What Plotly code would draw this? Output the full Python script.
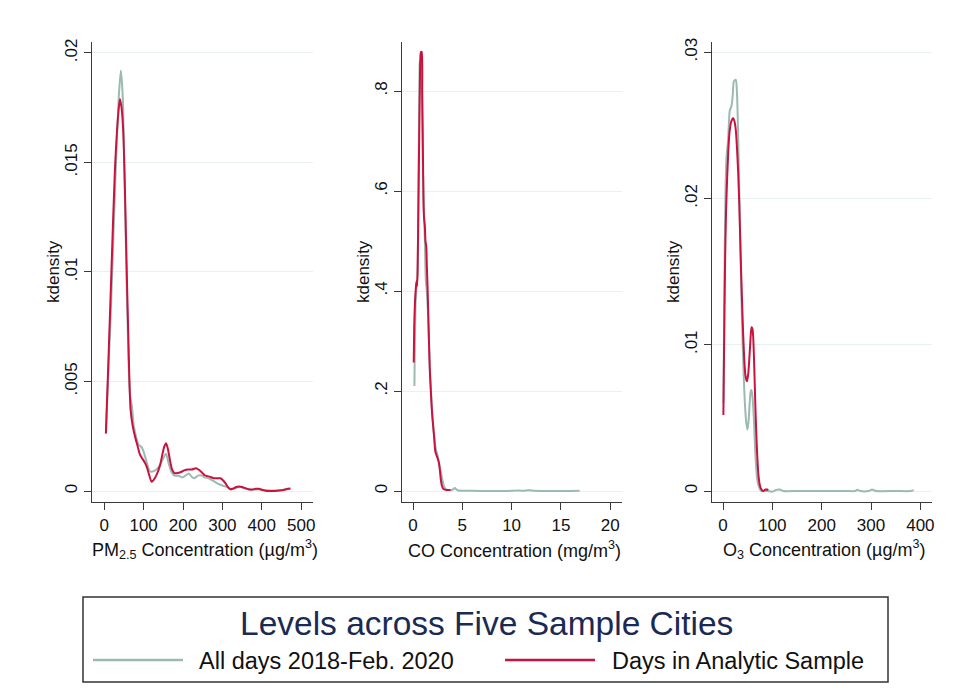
import plotly.graph_objects as go

# ---------------- data ----------------
pm_all_x = [4.5, 10, 18, 25, 32, 38, 42.5, 47, 52, 57, 62, 66, 70, 75, 82, 88, 95, 100, 108, 116, 125,
            134, 142, 150, 157, 163, 170, 178, 188, 198, 206, 215, 222, 228, 238, 246, 255, 265, 275,
            287, 300, 313, 322, 335, 345, 360, 375, 395, 410, 430, 450, 465, 472]
pm_all_y = [0.0027, 0.0052, 0.0088, 0.0125, 0.0160, 0.0183, 0.0192, 0.0180, 0.0140, 0.0095, 0.0058,
            0.0043, 0.0039, 0.0030, 0.0024, 0.0021, 0.0020, 0.0018, 0.0013, 0.0009, 0.0009, 0.0010,
            0.0012, 0.0015, 0.0017, 0.0013, 0.0009, 0.0007, 0.0007, 0.00062, 0.0007, 0.0008, 0.00065,
            0.00058, 0.0007, 0.00072, 0.00062, 0.00058, 0.00048, 0.00035, 0.00025, 0.00018, 0.00008,
            0.00015, 0.00018, 0.0001, 0.00005, 0.00008, 0.00003, 0.00002, 0.00004, 0.00008, 0.0001]

pm_ana_x = [4.2, 10, 18.6, 27, 35.6, 39.8, 44, 48.3, 52, 55, 58, 61, 64, 67, 72, 78, 84, 90, 96, 103,
            108, 113, 120.3, 126, 132, 141.5, 148, 152, 157, 162, 167, 172, 178, 186, 195, 203, 213,
            222, 233, 240, 248, 255, 262, 270, 278, 287, 295, 302, 308, 314, 320, 326, 334, 342, 350,
            358, 366, 375, 385, 392, 400, 410, 420, 432, 445, 458, 466, 473]
pm_ana_y = [0.00262, 0.0056, 0.0102, 0.0146, 0.0172, 0.0179, 0.0175, 0.0164, 0.0142, 0.0118, 0.0094,
            0.0072, 0.0050, 0.0037, 0.0030, 0.0025, 0.0021, 0.0017, 0.0015, 0.0013, 0.0011, 0.0008,
            0.00042, 0.00052, 0.0007, 0.00116, 0.0017, 0.0020, 0.00218, 0.0019, 0.0014, 0.0010,
            0.00082, 0.00082, 0.00087, 0.00094, 0.00098, 0.00098, 0.00104, 0.00097, 0.00085, 0.00072,
            0.00068, 0.00064, 0.00058, 0.00058, 0.00058, 0.00048, 0.00035, 0.00018, 0.00008, 0.0001,
            0.00017, 0.0002, 0.00018, 0.00013, 0.00008, 0.00007, 0.0001, 0.0001, 0.00006, 0.00001,
            0.0, 0.0, 0.00002, 0.00006, 0.0001, 0.00011]

co_all_x = [0.14, 0.18, 0.25, 0.35, 0.45, 0.55, 0.65, 0.7, 0.8, 0.9, 1.0, 1.1, 1.2, 1.3, 1.4, 1.5, 1.7,
            1.9, 2.1, 2.3, 2.5, 2.7, 2.9, 3.1, 3.3, 3.6, 3.9, 4.1, 4.25, 4.4, 4.6, 5, 6, 8, 10, 10.7,
            11.1, 11.8, 12.3, 14, 16, 16.9]
co_all_y = [0.21, 0.29, 0.37, 0.41, 0.43, 0.6, 0.82, 0.86, 0.86, 0.8, 0.65, 0.56, 0.5, 0.42, 0.4, 0.36,
            0.25, 0.17, 0.12, 0.085, 0.07, 0.05, 0.03, 0.012, 0.004, 0.002, 0.002, 0.004, 0.006, 0.003,
            0.001, 0.0005, 0.0003, 0.0002, 0.0003, 0.0012, 0.0003, 0.0015, 0.0003, 0.0002, 0.0002,
            0.0004]

co_ana_x = [0.07, 0.12, 0.2, 0.3, 0.36, 0.42, 0.47, 0.55, 0.65, 0.75, 0.80, 0.88, 0.93, 1.0, 1.06,
            1.12, 1.2, 1.26, 1.34, 1.4, 1.47, 1.58, 1.69, 1.78, 1.86, 1.95, 2.03, 2.15, 2.25, 2.37,
            2.5, 2.61, 2.71, 2.81, 2.95, 3.12, 3.4, 3.8]
co_ana_y = [0.257, 0.33, 0.38, 0.41, 0.42, 0.41, 0.45, 0.58, 0.75, 0.87, 0.878, 0.878, 0.80, 0.68, 0.58,
            0.545, 0.53, 0.5, 0.49, 0.45, 0.41, 0.33, 0.247, 0.21, 0.179, 0.15, 0.132, 0.105, 0.08,
            0.072, 0.065, 0.0575, 0.044, 0.024, 0.009, 0.0034, 0.002, 0.002]

o3_all_x = [0.7, 2, 3.4, 5, 7, 10.2, 13.6, 17, 19.5, 21.7, 24, 26, 28.5, 30.5, 32.5, 35, 37.3, 40, 42,
            44.1, 47, 49.5, 52, 54.2, 56, 57.6, 59.5, 62.4, 64.5, 66.4, 69, 71.2, 75, 78, 90, 100, 108,
            115, 122, 150, 200, 250, 268, 272, 278, 295, 302, 310, 350, 380, 386.4]
o3_all_y = [0.006, 0.011, 0.0165, 0.0205, 0.0228, 0.024, 0.026, 0.0263, 0.027, 0.028, 0.0281, 0.0281,
            0.027, 0.0245, 0.0212, 0.0170, 0.0131, 0.0098, 0.0078, 0.0061, 0.0047, 0.0042, 0.0049,
            0.0061, 0.0068, 0.0069, 0.0065, 0.005, 0.0033, 0.002, 0.0009, 0.00046, 0.0001, 0.0, 0.0,
            -0.00005, 0.00008, 0.0001, 0.0, 0.0, 0.0, 0.0, 0.0, 0.00008, 0.0, 0.0, 0.0001, 0.0, 0.0,
            0.0, 0.00006]

o3_ana_x = [0.7, 2, 4, 6, 8.1, 11, 13.6, 17, 20.3, 23, 25.8, 28, 30.5, 33, 35.3, 38, 40.7, 43, 45.4,
            48.5, 51, 53, 55.5, 57.6, 59.5, 61, 63, 65.1, 67, 69.2, 72, 74.6, 78, 81.4, 86, 89.5, 91.5]
o3_ana_y = [0.0052, 0.0095, 0.0154, 0.019, 0.0212, 0.0235, 0.0247, 0.0253, 0.0255, 0.0253, 0.0247,
            0.0236, 0.0219, 0.0195, 0.0166, 0.0135, 0.0108, 0.0090, 0.0079, 0.0075, 0.0080, 0.0089,
            0.0103, 0.0112, 0.0111, 0.0106, 0.0088, 0.0063, 0.0043, 0.0025, 0.0010, 0.0004, 0.0001,
            0.0, 0.0001, 0.0001, 0.00005]

pm_xticks = [0, 100, 200, 300, 400, 500]
pm_yticks = [0, 0.005, 0.01, 0.015, 0.02]
pm_ylabels = ["0", ".005", ".01", ".015", ".02"]
co_xticks = [0, 5, 10, 15, 20]
co_yticks = [0, 0.2, 0.4, 0.6, 0.8]
co_ylabels = ["0", ".2", ".4", ".6", ".8"]
o3_xticks = [0, 100, 200, 300, 400]
o3_yticks = [0, 0.01, 0.02, 0.03]
o3_ylabels = ["0", ".01", ".02", ".03"]

x_titles = ["PM<sub>2.5</sub> Concentration (µg/m<sup>3</sup>)",
            "CO Concentration (mg/m<sup>3</sup>)",
            "O<sub>3</sub> Concentration (µg/m<sup>3</sup>)"]
y_title = "kdensity"
legend_title = "Levels across Five Sample Cities"
series_names = ["All days 2018-Feb. 2020", "Days in Analytic Sample"]

# ---------------- styling ----------------
OFF = 8                      # default body margin of the html page
W, H = 958 - 2 * OFF, 698 - 2 * OFF
GRAY = "#9bbab2"
RED = "#c8133f"
FONT = "Liberation Sans, Arial, sans-serif"
AXC = "#3a3a3a"
GRID = "#e8f0f2"
TXT = "#111111"

def px_x(p):
    return (p - OFF) / W

def px_y(p):
    return (H - (p - OFF)) / H

fig = go.Figure()

panels = [
    (pm_all_x, pm_all_y, pm_ana_x, pm_ana_y, "x", "y"),
    (co_all_x, co_all_y, co_ana_x, co_ana_y, "x2", "y2"),
    (o3_all_x, o3_all_y, o3_ana_x, o3_ana_y, "x3", "y3"),
]
for ax_, ay_, bx_, by_, xa, ya in panels:
    fig.add_trace(go.Scatter(x=ax_, y=ay_, mode="lines", xaxis=xa, yaxis=ya,
                             line=dict(color=GRAY, width=2, shape="spline", smoothing=0.6),
                             name=series_names[0], showlegend=False))
    fig.add_trace(go.Scatter(x=bx_, y=by_, mode="lines", xaxis=xa, yaxis=ya,
                             line=dict(color=RED, width=2, shape="spline", smoothing=0.6),
                             name=series_names[1], showlegend=False))

domains_x = [(92, 313), (402, 622), (712, 932)]
yd = [px_y(502), px_y(42)]
xranges = [[-31, 530], [-1.12, 21.2], [-22.4, 423.6]]
yranges = [[-0.000502, 0.0205], [-0.022, 0.898], [-0.00075, 0.0307]]
xticks = [pm_xticks, co_xticks, o3_xticks]
yticks = [(pm_yticks, pm_ylabels), (co_yticks, co_ylabels), (o3_yticks, o3_ylabels)]

tickfont = dict(family=FONT, size=17, color=TXT)
annotations = []
for i in range(3):
    sfx = "" if i == 0 else str(i + 1)
    fig.layout["xaxis" + sfx] = dict(
        domain=[px_x(domains_x[i][0]), px_x(domains_x[i][1])],
        anchor="y" + sfx, range=xranges[i], tickvals=xticks[i],
        showline=True, linecolor=AXC, linewidth=1.2, ticks="outside", ticklen=7,
        tickcolor=AXC, tickwidth=1.2, showgrid=False, zeroline=False,
        tickfont=tickfont, automargin=False,
    )
    fig.layout["yaxis" + sfx] = dict(
        domain=yd, anchor="x" + sfx, range=yranges[i],
        tickvals=yticks[i][0], ticktext=yticks[i][1], tickangle=-90,
        showline=True, linecolor=AXC, linewidth=1.2, ticks="outside", ticklen=7,
        tickcolor=AXC, tickwidth=1.2, showgrid=True, gridcolor=GRID, gridwidth=1.2,
        zeroline=False, tickfont=tickfont, automargin=False,
    )
    # axis titles
    cx = (domains_x[i][0] + domains_x[i][1]) / 2 + 2
    annotations.append(dict(text=x_titles[i], xref="paper", yref="paper", x=px_x(cx), y=px_y(549),
                            xanchor="center", yanchor="middle", showarrow=False,
                            font=dict(family=FONT, size=18, color=TXT)))
    annotations.append(dict(text=y_title, xref="paper", yref="paper",
                            x=px_x(domains_x[i][0] - 39), y=px_y(272), textangle=-90,
                            xanchor="center", yanchor="middle", showarrow=False,
                            font=dict(family=FONT, size=17, color=TXT)))

# legend box (manual, Stata style)
shapes = [
    dict(type="rect", xref="paper", yref="paper", x0=px_x(83), x1=px_x(888),
         y0=px_y(682), y1=px_y(597), line=dict(color="#333333", width=1.5)),
    dict(type="line", xref="paper", yref="paper", x0=px_x(93), x1=px_x(183),
         y0=px_y(660), y1=px_y(660), line=dict(color=GRAY, width=2.5)),
    dict(type="line", xref="paper", yref="paper", x0=px_x(505), x1=px_x(595),
         y0=px_y(660), y1=px_y(660), line=dict(color=RED, width=2.5)),
]
annotations += [
    dict(text=legend_title, xref="paper", yref="paper", x=px_x(486), y=px_y(623),
         xanchor="center", yanchor="middle", showarrow=False,
         font=dict(family=FONT, size=33.5, color="#1b2a55")),
    dict(text=series_names[0], xref="paper", yref="paper", x=px_x(197), y=px_y(661),
         xanchor="left", yanchor="middle", showarrow=False,
         font=dict(family=FONT, size=23.5, color=TXT)),
    dict(text=series_names[1], xref="paper", yref="paper", x=px_x(610), y=px_y(661),
         xanchor="left", yanchor="middle", showarrow=False,
         font=dict(family=FONT, size=23.5, color=TXT)),
]

fig.update_layout(
    width=W, height=H, margin=dict(l=0, r=0, t=0, b=0),
    paper_bgcolor="white", plot_bgcolor="white",
    shapes=shapes, annotations=annotations, showlegend=False,
    font=dict(family=FONT),
)

fig.write_html("out.html")
